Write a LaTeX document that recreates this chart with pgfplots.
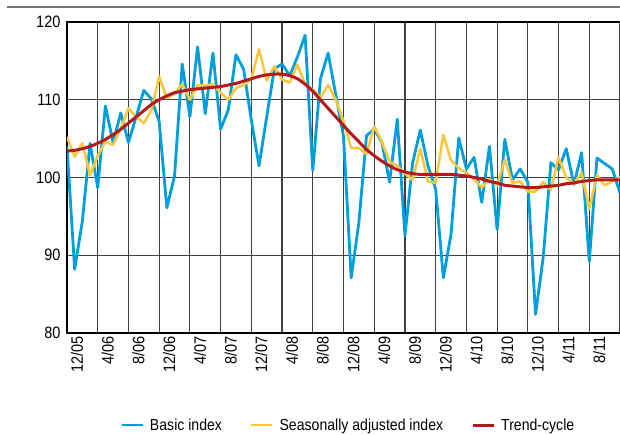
\documentclass[border=0pt]{standalone}
\usepackage{fontspec}
\setmainfont{Liberation Sans}[FakeStretch=0.88]
\usepackage{pgfplots}
\usepackage{pgfplotstable}
\pgfplotsset{compat=1.18}
\definecolor{cBasic}{RGB}{0,158,219}
\definecolor{cSA}{RGB}{248,201,62}
\definecolor{cTrend}{RGB}{180,26,28}
\pgfplotstableread{
x basic sa trend
0 104.0 105.2 103.4
1 88.2 102.7 103.5
2 94.4 104.4 103.7
3 104.4 100.3 104.0
4 98.7 102.8 104.4
5 109.2 104.6 104.9
6 104.5 104.2 105.5
7 108.3 106.3 106.2
8 104.5 108.9 107.0
9 107.8 107.8 107.8
10 111.2 107.0 108.6
11 110.1 108.7 109.4
12 107.2 113.0 110.0
13 96.1 110.2 110.5
14 100.2 110.8 110.9
15 114.6 112.0 111.1
16 107.8 110.0 111.3
17 116.8 111.9 111.4
18 108.2 111.8 111.5
19 116.0 112.0 111.6
20 106.2 110.9 111.7
21 108.7 110.0 111.9
22 115.8 111.5 112.1
23 113.9 111.9 112.4
24 107.4 112.7 112.7
25 101.5 116.5 113.0
26 107.8 112.5 113.2
27 114.0 114.3 113.3
28 114.6 112.6 113.3
29 113.1 112.2 113.1
30 115.5 114.5 112.7
31 118.3 112.0 112.0
32 100.9 111.3 111.1
33 112.7 110.3 110.0
34 116.0 111.9 108.9
35 110.6 110.0 107.8
36 105.3 107.2 106.7
37 87.1 103.8 105.6
38 94.2 103.8 104.6
39 105.4 103.0 103.6
40 106.2 106.6 102.8
41 104.5 104.6 102.1
42 99.4 102.0 101.5
43 107.5 101.5 101.0
44 92.5 100.5 100.7
45 101.9 99.7 100.5
46 106.1 103.7 100.4
47 101.5 99.5 100.4
48 98.5 99.3 100.4
49 87.1 105.5 100.4
50 92.7 102.2 100.4
51 105.1 101.2 100.3
52 101.1 100.6 100.2
53 102.6 99.8 100.0
54 96.8 98.7 99.8
55 104.0 99.8 99.5
56 93.3 99.0 99.3
57 104.9 102.3 99.0
58 99.7 99.3 98.9
59 101.1 99.5 98.8
60 99.4 98.2 98.7
61 82.4 98.2 98.7
62 89.7 99.4 98.8
63 101.9 98.4 98.9
64 101.0 102.6 99.0
65 103.7 100.0 99.2
66 99.1 99.2 99.3
67 103.2 100.6 99.5
68 89.2 96.0 99.6
69 102.5 100.3 99.7
70 101.8 99.0 99.7
71 101.1 99.5 99.7
72 98.0 100.0 99.7
}\datatable
\begin{document}
\begin{tikzpicture}
\begin{axis}[
  name=ax,
  scale only axis,
  width=556.84pt, height=311pt,
  xmin=0, xmax=72.5, ymin=80, ymax=120,
  xtick={0,4,...,72},
  xticklabels={12/05,4/06,8/06,12/06,4/07,8/07,12/07,4/08,8/08,12/08,4/09,8/09,12/09,4/10,8/10,12/10,4/11,8/11,12/11},
  ytick={80,90,...,120},
  /pgf/number format/assume math mode=true,
  major tick length=0pt,
  grid=major,
  major grid style={black!75, line width=1.2pt},
  axis line style={black, line width=1.2pt},
  tick label style={font=\fontsize{16.5}{19}\selectfont},
  xticklabel style={rotate=90, anchor=east, yshift=-10pt},
  yticklabel style={xshift=-3pt},
  legend columns=3,
  legend style={draw=none, fill=none, at={(0.505,-0.296)}, anchor=center,
    font=\fontsize{16}{19}\selectfont,
    /tikz/every odd column/.append style={column sep=4pt},
    /tikz/every even column/.append style={column sep=26pt}},
  legend image code/.code={\draw[#1] (0pt,0pt) -- (21pt,0pt);},
]
\addplot[cBasic, line width=2.8pt, line join=round] table[x=x, y=basic] {\datatable};
\addlegendentry{Basic index}
\addplot[cSA, line width=2.6pt, line join=round] table[x=x, y=sa] {\datatable};
\addlegendentry{Seasonally adjusted index}
\addplot[cTrend, line width=3pt, smooth] table[x=x, y=trend] {\datatable};
\addlegendentry{Trend-cycle}
\end{axis}
\draw[black!55, line width=1.5pt] ([xshift=-60pt,yshift=326pt]ax.south west) -- ([xshift=560pt,yshift=326pt]ax.south west);
\pgfresetboundingbox
\path ([xshift=-67pt,yshift=-101pt]ax.south west) rectangle ([xshift=553pt,yshift=333pt]ax.south west);
\end{tikzpicture}
\end{document}
